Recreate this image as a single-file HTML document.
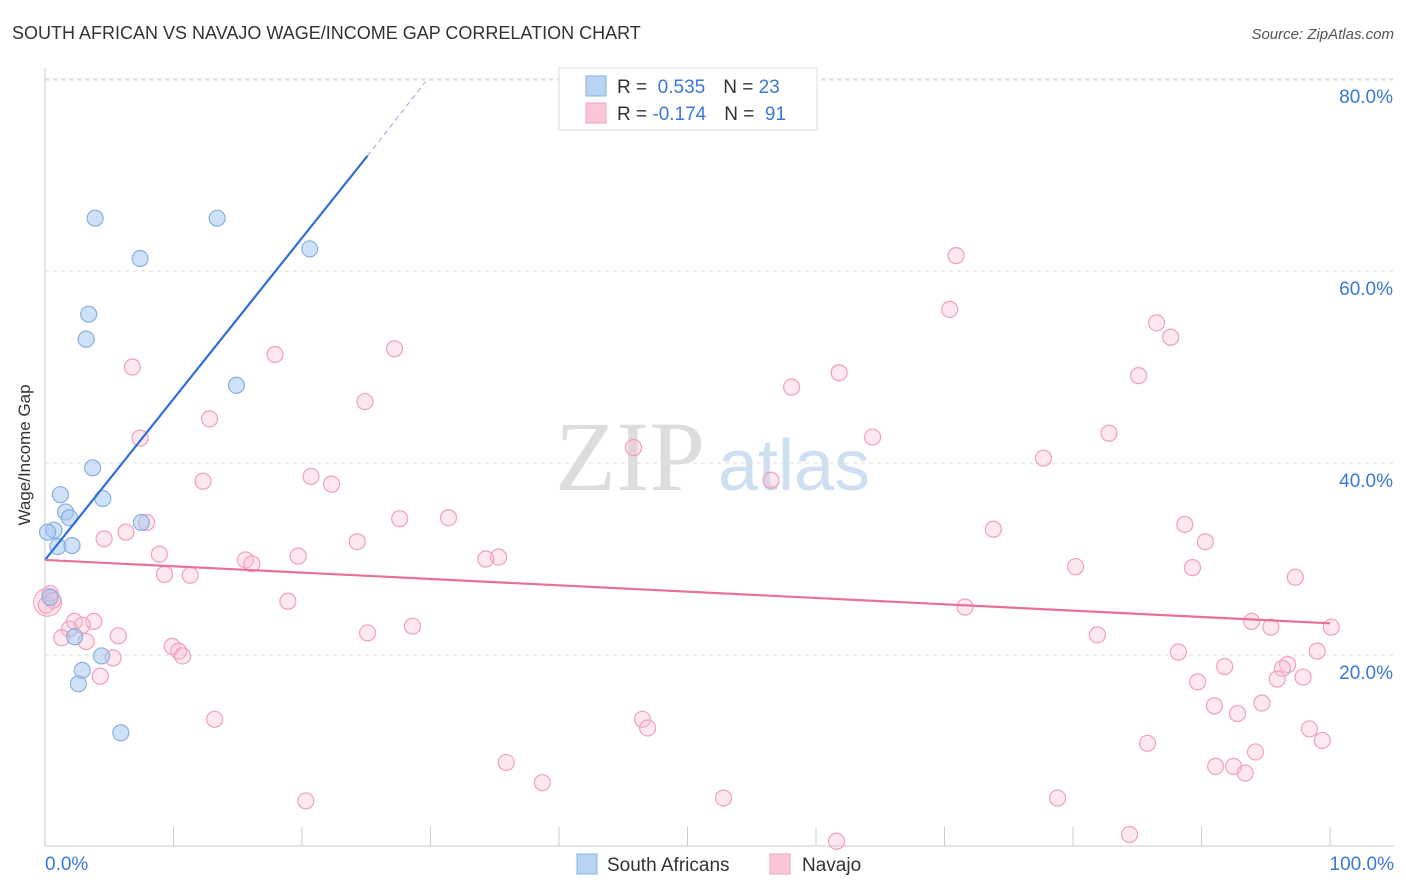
<!DOCTYPE html>
<html><head><meta charset="utf-8"><style>
body{margin:0;background:#fff;font-family:"Liberation Sans",sans-serif;}
svg{display:block}
</style></head><body>
<svg id="chart" width="1406" height="892">
<text x="12" y="39" font-size="18" fill="#333">SOUTH AFRICAN VS NAVAJO WAGE/INCOME GAP CORRELATION CHART</text>
<text x="1394" y="39" font-size="15" fill="#555" font-style="italic" text-anchor="end">Source: ZipAtlas.com</text>
<text x="30" y="455" font-size="17" fill="#333" text-anchor="middle" transform="rotate(-90 30 455)">Wage/Income Gap</text>
<text x="555" y="490" font-size="100" fill="#ddd" font-family="Liberation Serif,serif">ZIP</text>
<text x="718" y="490" font-size="72" fill="#cfdff2">atlas</text>
<g id="grid"></g><g id="marks"></g>
<g>
<rect x="559" y="68" width="258" height="62" fill="#fff" stroke="#ddd"/>
<rect x="586" y="76" width="20" height="20" fill="#b8d4f4" stroke="#8ab0e0"/>
<rect x="586" y="103" width="20" height="20" fill="#f8c6d6" stroke="#f0a0bc"/>
<text x="617" y="93" font-size="19" fill="#333">R = <tspan fill="#3b78d8">&#160;0.535</tspan><tspan dx="18">N = </tspan><tspan fill="#3b78d8">23</tspan></text>
<text x="617" y="120" font-size="19" fill="#333">R = <tspan fill="#3b78d8">-0.174</tspan><tspan dx="18">N = </tspan><tspan fill="#3b78d8">&#160;91</tspan></text>
</g>
<g>
<rect x="577" y="854" width="20" height="20" fill="#b8d4f4" stroke="#8ab0e0"/>
<text x="607" y="871" font-size="19" fill="#333">South Africans</text>
<rect x="770" y="854" width="20" height="20" fill="#f8c6d6" stroke="#f0a0bc"/>
<text x="802" y="871" font-size="19" fill="#333">Navajo</text>
</g>
</svg>
<script>
const xTicks=[0,10,20,30,40,50,60,70,80,90,100];
const yTicks=[20,40,60,80];
const blueX=[3.9,13.4,7.4,20.6,3.4,3.2,14.9,3.7,1.2,4.5,1.6,1.9,0.7,7.5,0.2,1.0,2.1,0.4,2.3,2.9,4.4,2.6,5.9];
const blueY=[65.5,65.5,61.3,62.3,55.5,52.9,48.1,39.5,36.7,36.3,34.9,34.3,33.0,33.8,32.8,31.3,31.4,26.0,21.9,18.4,19.9,17.0,11.9];
const pinkX=[70.9,70.4,86.5,87.6,27.2,17.9,6.8,61.8,85.1,58.1,24.9,12.8,7.4,82.8,64.4,45.8,77.7,20.7,12.3,22.3,56.5,31.4,27.6,7.9,88.7,73.8,6.3,4.6,24.3,90.3,8.9,19.7,35.3,34.3,15.6,16.1,80.2,89.3,9.3,11.3,97.3,0.4,0.6,0.1,18.9,71.6,3.8,2.3,2.9,93.9,95.4,100.1,1.9,28.6,25.1,81.9,5.7,1.3,3.2,9.9,10.4,10.7,88.2,99.0,5.3,96.7,96.3,91.8,4.3,95.9,97.9,89.7,94.7,91.0,92.8,13.2,46.5,46.9,98.4,99.4,85.8,94.2,35.9,91.1,92.5,93.4,38.7,52.8,78.8,20.3,84.4,61.6];
const pinkY=[61.6,56.0,54.6,53.1,51.9,51.3,50.0,49.4,49.1,47.9,46.4,44.6,42.6,43.1,42.7,41.6,40.5,38.6,38.1,37.8,38.2,34.3,34.2,33.8,33.6,33.1,32.8,32.1,31.8,31.8,30.5,30.3,30.2,30.0,29.9,29.5,29.2,29.1,28.4,28.3,28.1,26.4,25.7,25.2,25.6,25.0,23.5,23.5,23.1,23.5,22.9,22.9,22.7,23.0,22.3,22.1,22.0,21.8,21.4,20.9,20.4,19.9,20.3,20.4,19.7,19.0,18.6,18.8,17.8,17.5,17.7,17.2,15.0,14.7,13.9,13.3,13.3,12.4,12.3,11.1,10.8,9.9,8.8,8.4,8.4,7.7,6.7,5.1,5.1,4.8,1.3,0.6];
const blueLine=[[0,29.9],[25.1,72.0]];
const blueDash=[[25.1,72.0],[29.6,79.7]];
const pinkLine=[[0,29.9],[100,23.3]];
const X=v=>45+v*12.85, Y=v=>847-v*9.6;
const NS='http://www.w3.org/2000/svg';
function mk(t,a,p){const e=document.createElementNS(NS,t);for(const k in a)e.setAttribute(k,a[k]);p.appendChild(e);return e;}
const g=document.getElementById('grid'), m=document.getElementById('marks');
yTicks.forEach(v=>{
const l=mk('line',{x1:45,x2:1394,y1:Y(v),y2:Y(v),stroke:'#ddd','stroke-dasharray':'4,4'},g);


const t=mk('text',{x:1393,y:Y(v)+24,'font-size':19,fill:'#3b78d8','text-anchor':'end'},g);t.textContent=v.toFixed(1)+'%';


});
mk('line',{x1:45,x2:1394,y1:80,y2:80,stroke:'#ddd','stroke-dasharray':'4,4'},g);
mk('line',{x1:45,x2:45,y1:68,y2:846,stroke:'#ccc'},g);
mk('line',{x1:45,x2:1394,y1:846,y2:846,stroke:'#ccc'},g);
xTicks.forEach(v=>{const l=mk('line',{x1:X(v),x2:X(v),y1:827,y2:846,stroke:'#ccc'},g);

});
[[0,'0.0%','start',45],[100,'100.0%','end',1394]].forEach(a=>{const t=mk('text',{x:a[3],y:870,'font-size':19,fill:'#3b78d8','text-anchor':a[2]},g);t.textContent=a[1];

});
// big clusters at origin
mk('circle',{cx:X(0.2),cy:Y(25.5),r:14,fill:'rgba(248,190,210,0.4)',stroke:'#f0a0bc'},m);
pinkX.forEach((x,i)=>{const c=mk('circle',{cx:X(x),cy:Y(pinkY[i]),r:8,fill:'rgba(248,190,210,0.35)',stroke:'#f0a0bc','stroke-width':1.2},m);

});
blueX.forEach((x,i)=>{const c=mk('circle',{cx:X(x),cy:Y(blueY[i]),r:8,fill:'rgba(160,196,240,0.5)',stroke:'#8ab0e0','stroke-width':1.2},m);

});
const bl=mk('line',{x1:X(blueLine[0][0]),y1:Y(blueLine[0][1]),x2:X(blueLine[1][0]),y2:Y(blueLine[1][1]),stroke:'#2f6fd8','stroke-width':2.2},m);


const bd=mk('line',{x1:X(blueDash[0][0]),y1:Y(blueDash[0][1]),x2:X(blueDash[1][0]),y2:Y(blueDash[1][1]),stroke:'#9cb8e0','stroke-width':1.2,'stroke-dasharray':'5,4'},m);


const pl=mk('line',{x1:X(pinkLine[0][0]),y1:Y(pinkLine[0][1]),x2:X(pinkLine[1][0]),y2:Y(pinkLine[1][1]),stroke:'#e8709a','stroke-width':2.2},m);


</script>
</body></html>
